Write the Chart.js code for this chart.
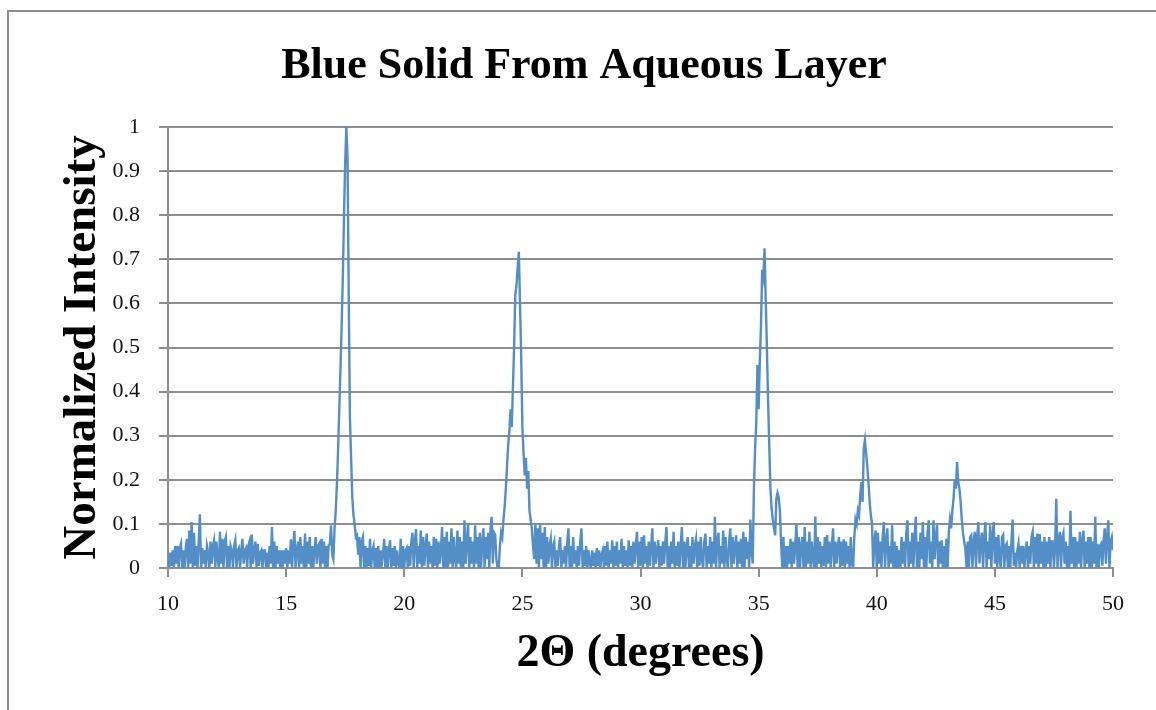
<!DOCTYPE html>
<html>
<head>
<meta charset="utf-8">
<script src="https://cdn.jsdelivr.net/npm/chart.js@4.4.1/dist/chart.umd.min.js"></script>
<style>
  html, body { margin: 0; padding: 0; background: #ffffff; }
  #wrap { width: 1156px; height: 710px; position: relative; }
</style>
</head>
<body>
<div id="wrap"><canvas id="xrd" width="1156" height="710"></canvas></div>
<script>
// Texts
const chartTitle = 'Blue Solid From Aqueous Layer';
const xAxisTitle = '2Θ (degrees)';
const yAxisTitle = 'Normalized Intensity';
const xTickLabels = ['10', '15', '20', '25', '30', '35', '40', '45', '50'];
const yTickLabels = ['0', '0.1', '0.2', '0.3', '0.4', '0.5', '0.6', '0.7', '0.8', '0.9', '1'];

// Scan grid: 2θ from 10° in 0.05° steps
const scanStart = 10;
const scanStep = 0.05;

// Normalized intensity, one row of 20 samples per degree
const intensity10to20 = [
  0.03,0.00,0.035,0.005,0.04,0.00,0.05,0.01,0.05,0.00,0.045,0.055,0.00,0.04,0.00,0.045,0.066,0.00,0.085,0.01,
  0.104,0.00,0.08,0.005,0.05,0.00,0.06,0.122,0.00,0.045,0.01,0.04,0.00,0.05,0.035,0.00,0.06,0.01,0.05,0.063,
  0.00,0.06,0.02,0.00,0.082,0.01,0.066,0.00,0.06,0.07,0.00,0.05,0.00,0.05,0.04,0.00,0.05,0.063,0.00,0.04,
  0.045,0.00,0.04,0.066,0.01,0.04,0.045,0.00,0.05,0.06,0.00,0.076,0.01,0.04,0.06,0.00,0.055,0.005,0.035,0.04,
  0.00,0.04,0.04,0.00,0.035,0.00,0.05,0.01,0.093,0.00,0.06,0.00,0.05,0.01,0.04,0.00,0.04,0.00,0.04,0.01,
  0.045,0.00,0.04,0.01,0.065,0.00,0.05,0.084,0.00,0.04,0.06,0.00,0.07,0.01,0.05,0.00,0.078,0.00,0.06,0.01,
  0.07,0.00,0.05,0.00,0.04,0.07,0.01,0.05,0.055,0.00,0.066,0.01,0.06,0.00,0.05,0.00,0.05,0.055,0.097,0.03,
  0.02,0.09,0.13,0.19,0.27,0.36,0.45,0.55,0.66,0.80,0.92,1.00,0.93,0.62,0.34,0.25,0.16,0.12,0.10,0.07,
  0.074,0.03,0.07,0.00,0.06,0.07,0.00,0.05,0.00,0.045,0.005,0.066,0.00,0.04,0.05,0.00,0.045,0.00,0.05,0.00,
  0.04,0.01,0.03,0.066,0.00,0.05,0.00,0.04,0.063,0.00,0.045,0.005,0.05,0.00,0.04,0.01,0.00,0.066,0.00,0.05
];
const intensity20to30 = [
  0.00,0.04,0.045,0.00,0.05,0.005,0.06,0.08,0.00,0.06,0.088,0.00,0.05,0.01,0.085,0.00,0.07,0.005,0.05,0.078,
  0.00,0.06,0.01,0.05,0.00,0.07,0.005,0.066,0.00,0.06,0.01,0.04,0.093,0.00,0.07,0.00,0.082,0.00,0.06,0.01,
  0.09,0.00,0.07,0.02,0.00,0.085,0.01,0.07,0.00,0.06,0.00,0.108,0.01,0.06,0.10,0.00,0.07,0.01,0.06,0.00,
  0.097,0.01,0.07,0.00,0.08,0.00,0.06,0.09,0.00,0.07,0.02,0.08,0.00,0.085,0.116,0.01,0.08,0.075,0.02,0.00,
  0.00,0.05,0.08,0.07,0.11,0.14,0.18,0.23,0.28,0.31,0.36,0.32,0.41,0.50,0.62,0.64,0.68,0.717,0.60,0.48,
  0.32,0.26,0.21,0.25,0.18,0.22,0.13,0.11,0.09,0.05,0.02,0.10,0.01,0.09,0.00,0.10,0.02,0.08,0.00,0.093,
  0.00,0.07,0.01,0.05,0.066,0.00,0.05,0.06,0.00,0.04,0.005,0.05,0.07,0.00,0.04,0.01,0.05,0.00,0.06,0.09,
  0.00,0.05,0.00,0.07,0.01,0.04,0.00,0.05,0.005,0.06,0.09,0.00,0.04,0.005,0.05,0.00,0.04,0.01,0.00,0.04,
  0.005,0.035,0.00,0.045,0.005,0.04,0.00,0.03,0.04,0.00,0.05,0.005,0.06,0.00,0.04,0.01,0.063,0.00,0.05,0.005,
  0.06,0.00,0.04,0.01,0.066,0.00,0.05,0.005,0.04,0.00,0.063,0.005,0.05,0.00,0.06,0.01,0.05,0.082,0.00,0.06
];
const intensity30to40 = [
  0.005,0.07,0.00,0.074,0.01,0.05,0.00,0.06,0.005,0.05,0.09,0.00,0.06,0.01,0.04,0.063,0.00,0.05,0.005,0.06,
  0.01,0.06,0.093,0.00,0.05,0.00,0.06,0.01,0.082,0.00,0.05,0.005,0.06,0.00,0.05,0.093,0.00,0.06,0.00,0.05,
  0.07,0.00,0.05,0.00,0.07,0.01,0.05,0.066,0.00,0.06,0.005,0.07,0.02,0.00,0.06,0.078,0.00,0.05,0.01,0.07,
  0.00,0.06,0.01,0.116,0.00,0.06,0.08,0.00,0.05,0.01,0.085,0.00,0.07,0.02,0.00,0.06,0.09,0.00,0.07,0.01,
  0.05,0.074,0.00,0.06,0.01,0.066,0.00,0.082,0.00,0.07,0.02,0.06,0.00,0.11,0.04,0.01,0.18,0.27,0.33,0.46,
  0.36,0.47,0.55,0.676,0.66,0.725,0.61,0.50,0.38,0.28,0.18,0.135,0.11,0.09,0.074,0.157,0.17,0.16,0.13,0.06,
  0.00,0.07,0.00,0.05,0.00,0.05,0.01,0.066,0.00,0.06,0.01,0.05,0.10,0.00,0.07,0.00,0.05,0.07,0.00,0.093,
  0.00,0.06,0.01,0.082,0.00,0.06,0.02,0.00,0.117,0.00,0.07,0.01,0.06,0.00,0.05,0.005,0.07,0.00,0.075,0.01,
  0.06,0.00,0.05,0.09,0.00,0.06,0.01,0.05,0.07,0.00,0.06,0.005,0.065,0.00,0.06,0.01,0.05,0.00,0.07,0.01,
  0.00,0.07,0.11,0.10,0.13,0.12,0.165,0.195,0.15,0.27,0.29,0.26,0.23,0.195,0.15,0.12,0.10,0.00,0.06,0.085
];
const intensity40to50 = [
  0.00,0.08,0.01,0.06,0.00,0.07,0.104,0.00,0.06,0.09,0.00,0.05,0.01,0.097,0.00,0.06,0.00,0.05,0.00,0.04,
  0.00,0.07,0.01,0.06,0.00,0.08,0.108,0.00,0.06,0.01,0.08,0.00,0.07,0.116,0.00,0.06,0.00,0.08,0.02,0.104,
  0.00,0.07,0.00,0.08,0.108,0.01,0.06,0.00,0.108,0.02,0.07,0.097,0.00,0.06,0.01,0.063,0.00,0.05,0.00,0.066,
  0.00,0.08,0.11,0.09,0.13,0.157,0.20,0.18,0.24,0.195,0.18,0.15,0.11,0.08,0.06,0.045,0.00,0.06,0.00,0.07,
  0.074,0.00,0.06,0.082,0.00,0.07,0.104,0.01,0.06,0.08,0.00,0.07,0.104,0.00,0.06,0.02,0.097,0.00,0.07,0.104,
  0.01,0.07,0.00,0.075,0.02,0.00,0.07,0.075,0.00,0.05,0.055,0.00,0.05,0.00,0.06,0.11,0.005,0.035,0.00,0.04,
  0.055,0.00,0.05,0.01,0.05,0.00,0.04,0.06,0.00,0.05,0.01,0.07,0.082,0.00,0.07,0.01,0.078,0.00,0.077,0.01,
  0.06,0.00,0.07,0.00,0.06,0.01,0.07,0.00,0.06,0.06,0.00,0.05,0.157,0.00,0.06,0.082,0.00,0.07,0.08,0.01,
  0.06,0.00,0.05,0.00,0.13,0.01,0.07,0.00,0.07,0.00,0.06,0.01,0.082,0.00,0.06,0.085,0.00,0.06,0.01,0.07,
  0.00,0.07,0.00,0.06,0.01,0.116,0.00,0.055,0.00,0.05,0.055,0.005,0.06,0.09,0.01,0.07,0.108,0.00,0.06,0.07,
  0.04
];

// Styling
const serif = "'Liberation Serif', 'Times New Roman', serif";
const lineColor = '#538ec7';
const gridColor = '#8e8e8e';
const textColor = '#111111';

const intensity = [].concat(intensity10to20, intensity20to30, intensity30to40, intensity40to50);
const points = intensity.map((v, i) => ({ x: +(scanStart + i * scanStep).toFixed(2), y: v }));

// Outer frame around the chart
const framePlugin = {
  id: 'frame',
  beforeDraw(chart) {
    const c = chart.ctx;
    c.save();
    c.strokeStyle = gridColor;
    c.lineWidth = 2;
    c.beginPath();
    c.moveTo(8, 710);
    c.lineTo(8, 11);
    c.lineTo(1156, 11);
    c.stroke();
    c.restore();
  }
};

new Chart(document.getElementById('xrd'), {
  type: 'line',
  data: {
    datasets: [{
      data: points,
      borderColor: lineColor,
      borderWidth: 2.4,
      pointRadius: 0,
      tension: 0,
      fill: false
    }]
  },
  options: {
    responsive: false,
    animation: false,
    devicePixelRatio: 1,
    parsing: false,
    layout: { padding: { left: 12, right: 0, top: 0, bottom: 0 } },
    plugins: {
      legend: { display: false },
      tooltip: { enabled: false },
      title: {
        display: true,
        text: chartTitle,
        color: '#000',
        font: { family: serif, size: 44, weight: 'bold' },
        padding: { top: 40, bottom: 34.2 }
      }
    },
    scales: {
      x: {
        type: 'linear',
        min: 10,
        max: 50,
        ticks: {
          stepSize: 5,
          autoSkip: false,
          maxRotation: 0,
          color: textColor,
          padding: 14,
          font: { family: serif, size: 22 },
          callback: (v, i) => xTickLabels[i]
        },
        grid: { drawOnChartArea: false, drawTicks: true, tickLength: 9, color: gridColor, lineWidth: 2 },
        border: { display: true, color: gridColor, width: 2 },
        title: {
          display: true,
          text: xAxisTitle,
          color: '#000',
          font: { family: serif, size: 46, weight: 'bold' },
          padding: { top: 0, bottom: 28.4 }
        },
        afterFit: s => { s.height = 142; s.paddingRight = 43; }
      },
      y: {
        type: 'linear',
        min: 0,
        max: 1,
        ticks: {
          stepSize: 0.1,
          color: textColor,
          padding: 19,
          font: { family: serif, size: 22 },
          callback: (v, i) => yTickLabels[i]
        },
        grid: { drawTicks: true, tickLength: 9, color: gridColor, lineWidth: 2 },
        border: { display: true, color: gridColor, width: 2 },
        title: {
          display: true,
          text: yAxisTitle,
          color: '#000',
          font: { family: serif, size: 47, weight: 'bold' },
          padding: { top: 42.8, bottom: 0 }
        },
        afterFit: s => { s.width = 156; }
      }
    }
  },
  plugins: [framePlugin]
});
</script>
</body>
</html>
